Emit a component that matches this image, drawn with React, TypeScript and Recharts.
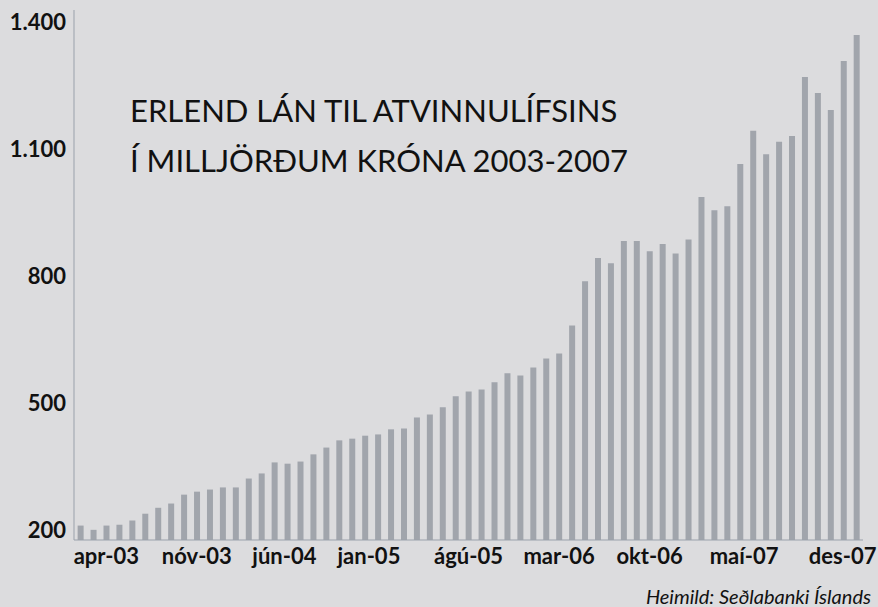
/** Bar chart: foreign loans to Icelandic businesses, monthly 2003-2007 (ISK bn). */

import { BarChart, Bar, XAxis, YAxis } from 'recharts'

// Month categories (Icelandic short names)
const MONTHS = [
  'feb-03', 'mar-03', 'apr-03', 'maí-03', 'jún-03', 'júl-03', 'ágú-03', 'sep-03', 'okt-03', 'nóv-03', 'des-03',
  'jan-04', 'feb-04', 'mar-04', 'apr-04', 'maí-04', 'jún-04', 'júl-04', 'ágú-04', 'sep-04', 'okt-04', 'nóv-04', 'des-04',
  'jan-05', 'feb-05', 'mar-05', 'apr-05', 'maí-05', 'jún-05', 'júl-05', 'ágú-05', 'sep-05', 'okt-05', 'nóv-05', 'des-05',
  'jan-06', 'feb-06', 'mar-06', 'apr-06', 'maí-06', 'jún-06', 'júl-06', 'ágú-06', 'sep-06', 'okt-06', 'nóv-06', 'des-06',
  'jan-07', 'feb-07', 'mar-07', 'apr-07', 'maí-07', 'jún-07', 'júl-07', 'ágú-07', 'sep-07', 'okt-07', 'nóv-07', 'des-07',
  'jan-08', 'feb-08',
]

// Loans in billions of krónur
const LOANS = [
  212, 202, 212, 214, 224, 240, 254, 264, 285, 292,
  297, 302, 302, 323, 335, 361, 358, 363, 380, 396,
  413, 417, 424, 427, 439, 441, 467, 474, 491, 517,
  528, 533, 550, 571, 566, 585, 606, 618, 684, 788,
  843, 831, 883, 883, 859, 876, 854, 887, 987, 956,
  965, 1065, 1143, 1088, 1117, 1131, 1270, 1232, 1192, 1308, 1369,
]

const X_TICKS = ['apr-03', 'nóv-03', 'jún-04', 'jan-05', 'ágú-05', 'mar-06', 'okt-06', 'maí-07', 'des-07']
const Y_TICKS = [200, 500, 800, 1100, 1400]

const TITLE = ['ERLEND LÁN TIL ATVINNULÍFSINS', 'Í MILLJÖRÐUM KRÓNA 2003-2007']
const SOURCE = 'Heimild: Seðlabanki Íslands'

const BG = '#dcdcde'
const BAR = '#a1a5ac'
const AXIS = '#9aa1ab'
const FONT = 'Lato, "Open Sans", sans-serif'

// the original's labels sit a little off their bars in a few places
const LABEL_NUDGE: Record<string, number> = { 'jún-04': -3, 'jan-05': -9, 'maí-07': 4, 'des-07': 12 }

const rows = MONTHS.map((m, i) => ({ month: m, value: LOANS[i] }))

const fmt = (v: number) => v.toLocaleString('de-DE')

function MonthTick(props: any) {
  const { x, y, payload } = props
  const dx = LABEL_NUDGE[payload.value] ?? 0
  return (
    <text
      x={x + dx}
      y={y}
      dy="0.71em"
      textAnchor="middle"
      fill="#111"
      fontSize={22}
      fontWeight={700}
      fontFamily={FONT}
    >
      {payload.value}
    </text>
  )
}

export default function App() {
  return (
    <div style={{ position: 'relative', width: 878, height: 607, background: BG, fontFamily: FONT }}>
      <style>{'body{margin:0}'}</style>
      <BarChart
        width={878}
        height={607}
        data={rows}
        margin={{ top: 10, right: 15, left: 0, bottom: 37 }}
        barCategoryGap="28%"
      >
        <XAxis
          dataKey="month"
          ticks={X_TICKS}
          interval={0}
          tickLine={false}
          stroke={AXIS}
          height={30}
          tick={<MonthTick />}
        />
        <YAxis
          domain={[178, 1428]}
          ticks={Y_TICKS}
          allowDataOverflow
          width={74}
          tickLine={false}
          stroke={AXIS}
          tickFormatter={fmt}
          tick={{ fill: '#111', fontSize: 22, fontWeight: 700, fontFamily: FONT }}
        />
        <Bar dataKey="value" fill={BAR} isAnimationActive={false} />
      </BarChart>
      <svg width={878} height={607} style={{ position: 'absolute', left: 0, top: 0, pointerEvents: 'none' }}>
        <text x={130} y={122} fontSize={31} fill="#111" fontFamily={FONT}>{TITLE[0]}</text>
        <text x={130} y={172} fontSize={31} fill="#111" fontFamily={FONT}>{TITLE[1]}</text>
        <text x={871} y={604} fontSize={20} fontStyle="italic" fill="#111" textAnchor="end" fontFamily={FONT}>
          {SOURCE}
        </text>
      </svg>
    </div>
  )
}
